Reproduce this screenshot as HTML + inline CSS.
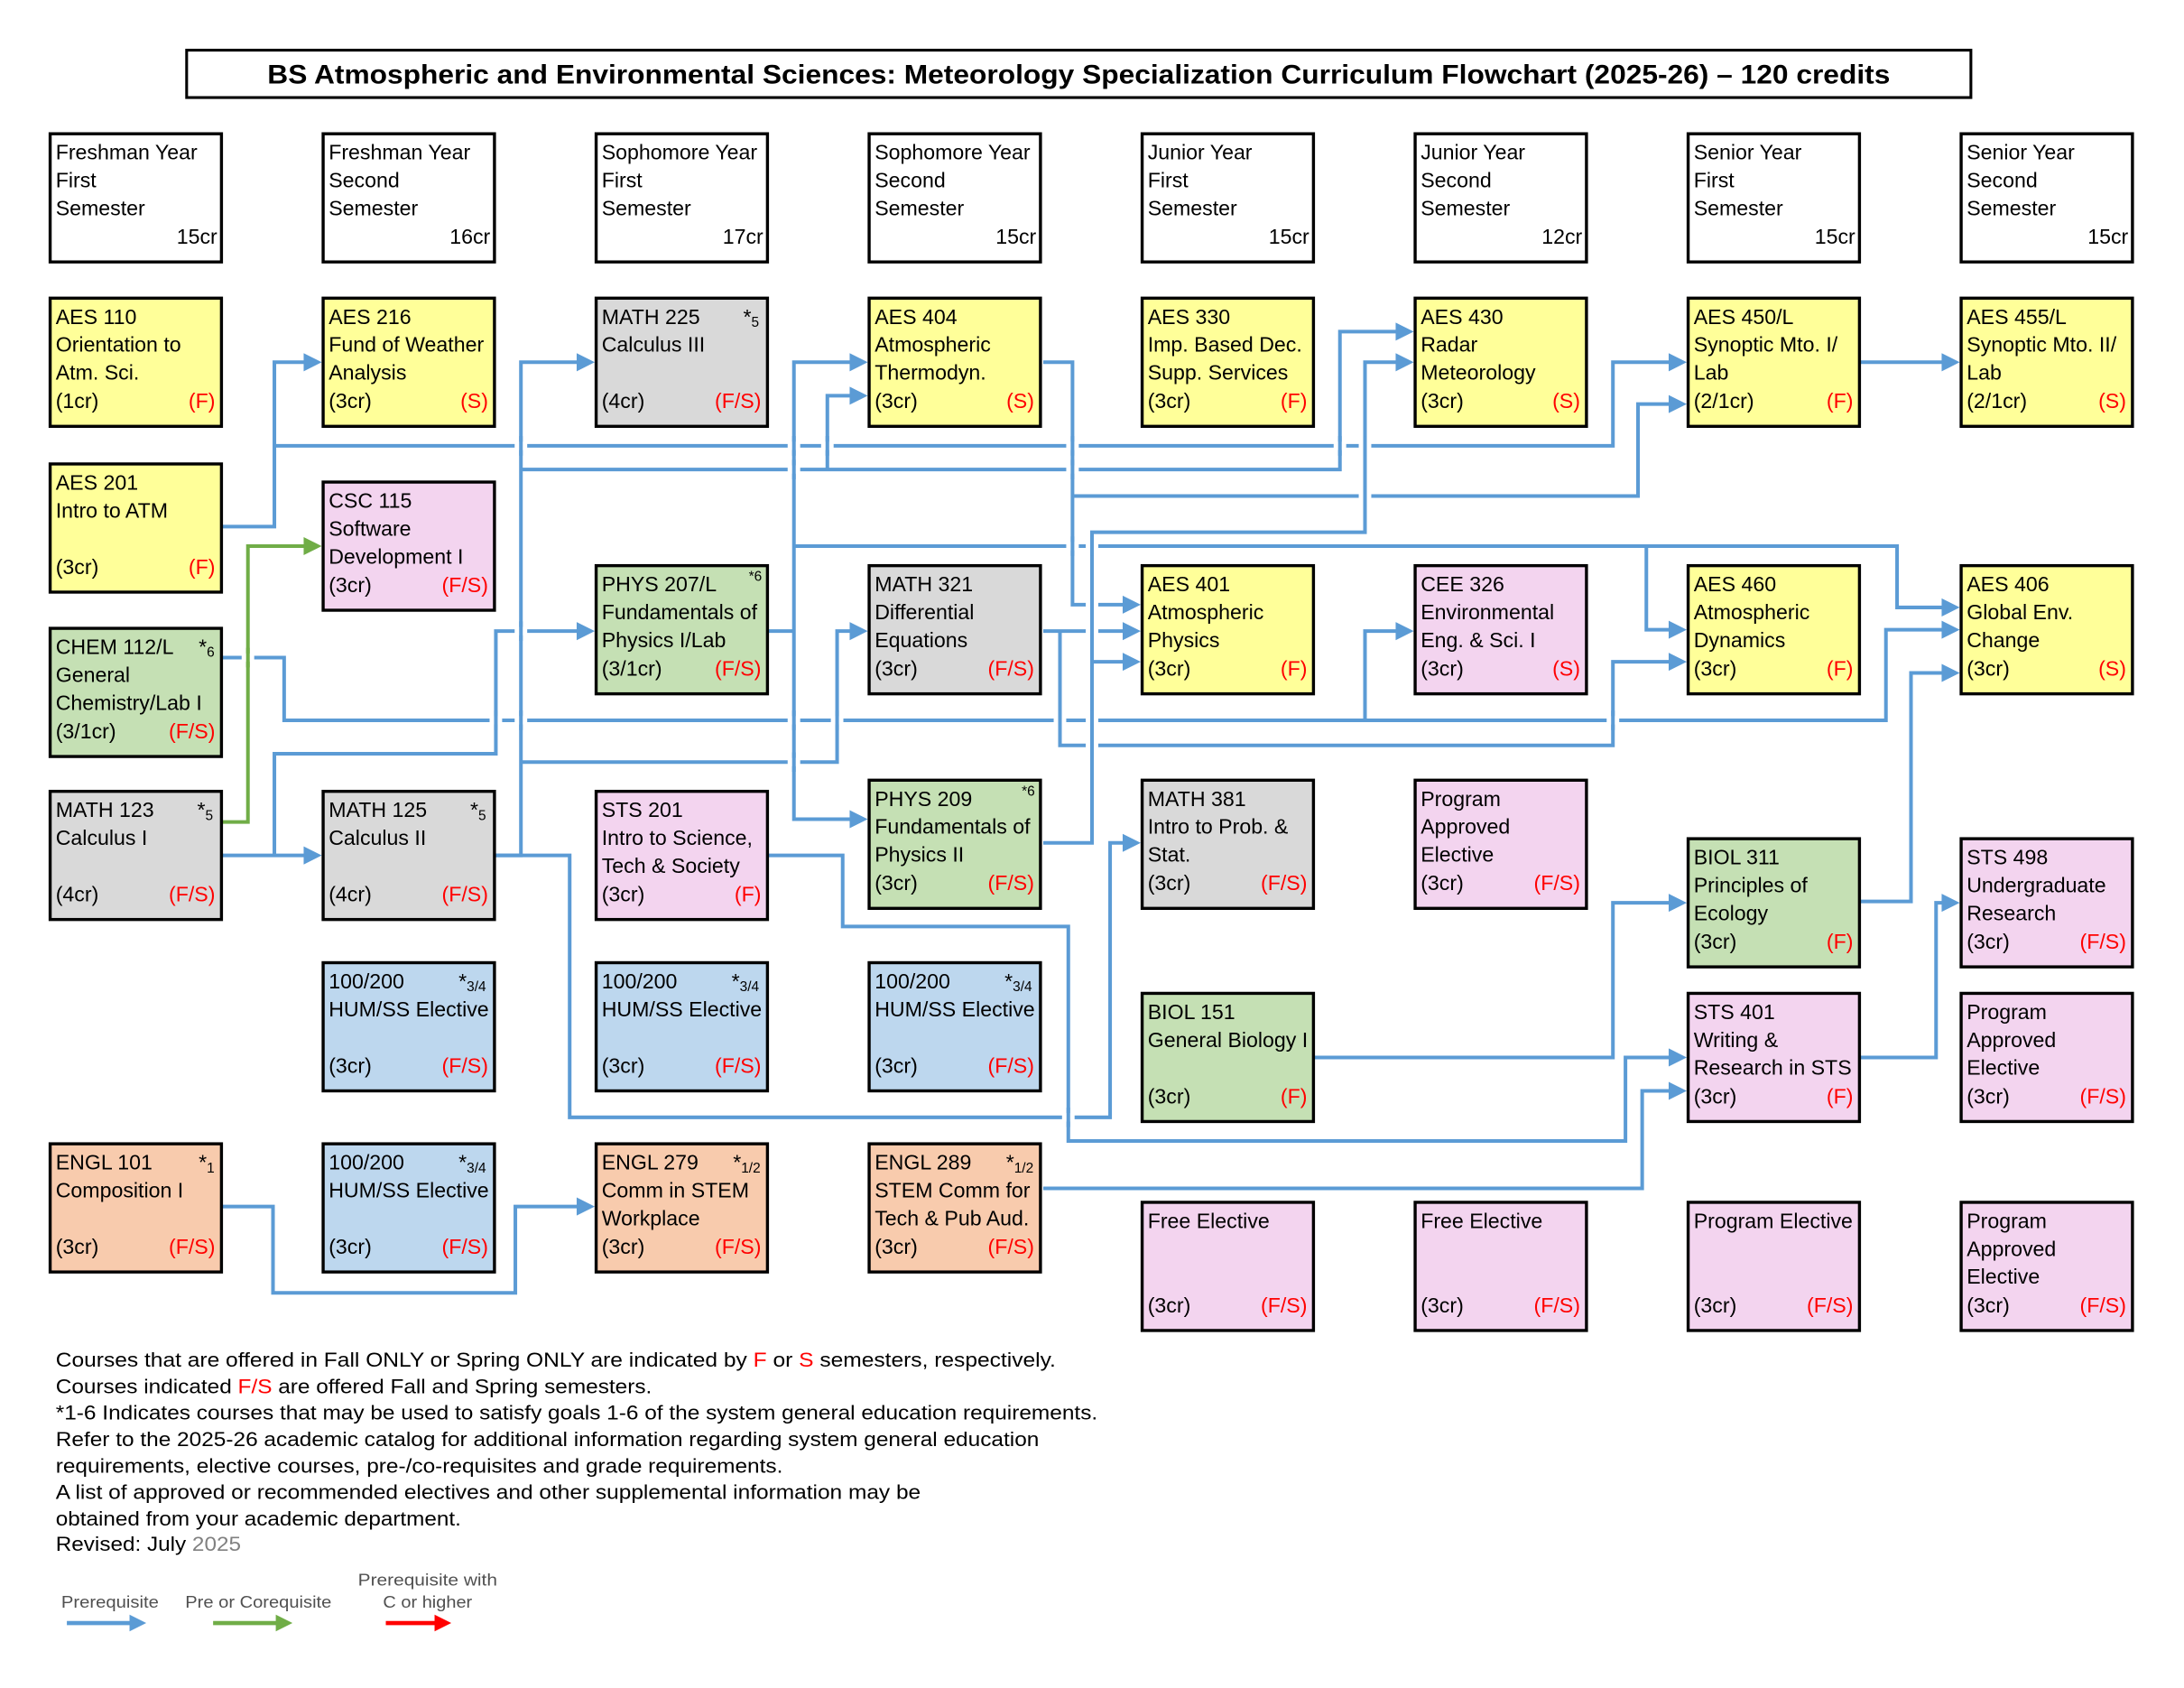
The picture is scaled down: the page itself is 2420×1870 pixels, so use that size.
<!DOCTYPE html>
<html><head><meta charset="utf-8"><style>
html,body{margin:0;padding:0;background:#fff;}
svg{display:block;}
text{font-family:"Liberation Sans",Arial,sans-serif;font-size:15px;fill:#000;}
.bx rect{stroke:#000;stroke-width:2.2;}
.r{fill:#f00;text-anchor:end;}
.e{text-anchor:end;}
.ln{fill:none;stroke:#5B9BD5;stroke-width:2.6;stroke-linejoin:miter;}
.gl{fill:none;stroke:#70AD47;stroke-width:2.6;}
.ah{fill:#5B9BD5;}
.lg{font-size:12px;fill:#505050;}
</style></head><body>
<svg width="2420" height="1870" viewBox="0 0 1568 1211.6" xmlns="http://www.w3.org/2000/svg">
<rect x="0" y="0" width="1568" height="1212" fill="#fff"/>
<!-- Title -->
<rect x="134" y="36" width="1281" height="34" fill="#fff" stroke="#000" stroke-width="2"/>
<text x="192" y="60" font-weight="bold" style="font-size:19px" textLength="1165" lengthAdjust="spacingAndGlyphs">BS Atmospheric and Environmental Sciences: Meteorology Specialization Curriculum Flowchart (2025-26) – 120 credits</text>

<!-- Semester headers -->
<g class="bx">
<g transform="translate(35,95)"><rect x="1" y="1" width="123" height="92" fill="#fff"/><text x="5" y="19.5">Freshman Year</text><text x="5" y="39.5">First</text><text x="5" y="59.5">Semester</text><text x="121" y="80" class="e">15cr</text></g>
<g transform="translate(231,95)"><rect x="1" y="1" width="123" height="92" fill="#fff"/><text x="5" y="19.5">Freshman Year</text><text x="5" y="39.5">Second</text><text x="5" y="59.5">Semester</text><text x="121" y="80" class="e">16cr</text></g>
<g transform="translate(427,95)"><rect x="1" y="1" width="123" height="92" fill="#fff"/><text x="5" y="19.5">Sophomore Year</text><text x="5" y="39.5">First</text><text x="5" y="59.5">Semester</text><text x="121" y="80" class="e">17cr</text></g>
<g transform="translate(623,95)"><rect x="1" y="1" width="123" height="92" fill="#fff"/><text x="5" y="19.5">Sophomore Year</text><text x="5" y="39.5">Second</text><text x="5" y="59.5">Semester</text><text x="121" y="80" class="e">15cr</text></g>
<g transform="translate(819,95)"><rect x="1" y="1" width="123" height="92" fill="#fff"/><text x="5" y="19.5">Junior Year</text><text x="5" y="39.5">First</text><text x="5" y="59.5">Semester</text><text x="121" y="80" class="e">15cr</text></g>
<g transform="translate(1015,95)"><rect x="1" y="1" width="123" height="92" fill="#fff"/><text x="5" y="19.5">Junior Year</text><text x="5" y="39.5">Second</text><text x="5" y="59.5">Semester</text><text x="121" y="80" class="e">12cr</text></g>
<g transform="translate(1211,95)"><rect x="1" y="1" width="123" height="92" fill="#fff"/><text x="5" y="19.5">Senior Year</text><text x="5" y="39.5">First</text><text x="5" y="59.5">Semester</text><text x="121" y="80" class="e">15cr</text></g>
<g transform="translate(1407,95)"><rect x="1" y="1" width="123" height="92" fill="#fff"/><text x="5" y="19.5">Senior Year</text><text x="5" y="39.5">Second</text><text x="5" y="59.5">Semester</text><text x="121" y="80" class="e">15cr</text></g>
</g>

<!-- Connectors (blue) -->
<g class="ln">
<path d="M160,378 H197 V260 H220"/>
<path d="M197,320 H1158 V260 H1200"/>
<path d="M356,614 H374 V260 H416"/>
<path d="M374,337 H962 V238 H1004"/>
<path d="M594,337 V284 H612"/>
<path d="M374,547 H601 V453 H612"/>
<path d="M356,614 H409 V802 H797 V605 H808"/>
<path d="M160,614 H220"/>
<path d="M197,614 V541 H356 V453 H416"/>
<path d="M160,472 H204 V517 H980 V453 H1004"/>
<path d="M980,517 H1354 V452 H1396"/>
<path d="M552,453 H570"/>
<path d="M612,260 H570 V588 H612"/>
<path d="M570,392 H1362 V436 H1396"/>
<path d="M1182,392 V452 H1200"/>
<path d="M749,260 H770 V434 H808"/>
<path d="M770,356 H1176 V290 H1200"/>
<path d="M749,453 H808"/>
<path d="M761,453 V535 H1158 V475 H1200"/>
<path d="M749,605 H784 V382 H980 V260 H1004"/>
<path d="M784,475 H808"/>
<path d="M552,614 H605 V665 H767 V819 H1167 V759 H1200"/>
<path d="M160,866 H196 V928 H370 V866 H416"/>
<path d="M749,853 H1179 V783 H1200"/>
<path d="M944,759 H1158 V648 H1200"/>
<path d="M1336,647 H1372 V483 H1396"/>
<path d="M1336,759 H1390 V648 H1396"/>
<path d="M1336,260 H1396"/>
</g>
<!-- Green connector -->
<path class="gl" d="M160,590 H178 V392 H220"/>

<!-- crossing gaps -->
<g fill="#fff">
<rect x="369.5" y="317" width="9" height="6"/><rect x="565.5" y="317" width="9" height="6"/><rect x="589.5" y="317" width="9" height="6"/><rect x="765.5" y="317" width="9" height="6"/><rect x="957.5" y="317" width="9" height="6"/><rect x="975.5" y="317" width="9" height="6"/>
<rect x="565.5" y="334" width="9" height="6"/><rect x="765.5" y="334" width="9" height="6"/>
<rect x="975.5" y="353" width="9" height="6"/>
<rect x="765.5" y="389" width="9" height="6"/><rect x="779.5" y="389" width="9" height="6"/>
<rect x="779.5" y="431" width="9" height="6"/>
<rect x="369.5" y="450" width="9" height="6"/><rect x="779.5" y="450" width="9" height="6"/>
<rect x="173.5" y="469" width="9" height="6"/>
<rect x="351.5" y="514" width="9" height="6"/><rect x="369.5" y="514" width="9" height="6"/><rect x="565.5" y="514" width="9" height="6"/><rect x="596.5" y="514" width="9" height="6"/><rect x="756.5" y="514" width="9" height="6"/><rect x="779.5" y="514" width="9" height="6"/><rect x="1153.5" y="514" width="9" height="6"/>
<rect x="779.5" y="532" width="9" height="6"/>
<rect x="565.5" y="544" width="9" height="6"/>
<rect x="762.5" y="799" width="9" height="6"/>
</g>
<g class="ln">
<path d="M374,313 V327 M570,313 V327 M594,313 V327 M770,313 V327 M962,313 V327 M980,313 V327"/>
<path d="M570,330 V344 M770,330 V344 M980,349 V363 M770,385 V399 M784,385 V399 M784,427 V441"/>
<path d="M374,446 V460 M784,446 V460"/>
<path d="M356,510 V524 M374,510 V524 M570,510 V524 M601,510 V524 M761,510 V524 M784,510 V524 M1158,510 V524"/>
<path d="M784,528 V542 M570,540 V554 M767,795 V809"/>
</g>
<path class="gl" d="M178,465 V479"/>

<!-- Arrowheads -->
<g class="ah">
<polygon points="231,260 218,253.5 218,266.5"/>
<polygon points="1211,260 1198,253.5 1198,266.5"/>
<polygon points="427,260 414,253.5 414,266.5"/>
<polygon points="1015,238 1002,231.5 1002,244.5"/>
<polygon points="623,284 610,277.5 610,290.5"/>
<polygon points="623,453 610,446.5 610,459.5"/>
<polygon points="819,605 806,598.5 806,611.5"/>
<polygon points="231,614 218,607.5 218,620.5"/>
<polygon points="427,453 414,446.5 414,459.5"/>
<polygon points="1015,453 1002,446.5 1002,459.5"/>
<polygon points="1407,452 1394,445.5 1394,458.5"/>
<polygon points="623,588 610,581.5 610,594.5"/>
<polygon points="623,260 610,253.5 610,266.5"/>
<polygon points="1407,436 1394,429.5 1394,442.5"/>
<polygon points="1211,452 1198,445.5 1198,458.5"/>
<polygon points="819,434 806,427.5 806,440.5"/>
<polygon points="1211,290 1198,283.5 1198,296.5"/>
<polygon points="819,453 806,446.5 806,459.5"/>
<polygon points="1211,475 1198,468.5 1198,481.5"/>
<polygon points="1015,260 1002,253.5 1002,266.5"/>
<polygon points="819,475 806,468.5 806,481.5"/>
<polygon points="1211,759 1198,752.5 1198,765.5"/>
<polygon points="427,866 414,859.5 414,872.5"/>
<polygon points="1211,783 1198,776.5 1198,789.5"/>
<polygon points="1211,648 1198,641.5 1198,654.5"/>
<polygon points="1407,483 1394,476.5 1394,489.5"/>
<polygon points="1407,648 1394,641.5 1394,654.5"/>
<polygon points="1407,260 1394,253.5 1394,266.5"/>
</g>
<polygon points="231,392 218,385.5 218,398.5" fill="#70AD47"/>

<!-- Course boxes -->
<g class="bx">
<g transform="translate(35,213)"><rect x="1" y="1" width="123" height="92" fill="#FFFF99"/><text x="5" y="19.5">AES 110</text><text x="5" y="39.5">Orientation to</text><text x="5" y="59.5">Atm. Sci.</text><text x="5" y="80">(1cr)</text><text x="119.5" y="80" class="r">(F)</text></g>
<g transform="translate(231,213)"><rect x="1" y="1" width="123" height="92" fill="#FFFF99"/><text x="5" y="19.5">AES 216</text><text x="5" y="39.5">Fund of Weather</text><text x="5" y="59.5">Analysis</text><text x="5" y="80">(3cr)</text><text x="119.5" y="80" class="r">(S)</text></g>
<g transform="translate(427,213)"><rect x="1" y="1" width="123" height="92" fill="#D9D9D9"/><text x="5" y="19.5">MATH 225</text><text x="118" y="19.5" class="e">*<tspan style="font-size:10px" dy="2">5</tspan></text><text x="5" y="39.5">Calculus III</text><text x="5" y="80">(4cr)</text><text x="119.5" y="80" class="r">(F/S)</text></g>
<g transform="translate(623,213)"><rect x="1" y="1" width="123" height="92" fill="#FFFF99"/><text x="5" y="19.5">AES 404</text><text x="5" y="39.5">Atmospheric</text><text x="5" y="59.5">Thermodyn.</text><text x="5" y="80">(3cr)</text><text x="119.5" y="80" class="r">(S)</text></g>
<g transform="translate(819,213)"><rect x="1" y="1" width="123" height="92" fill="#FFFF99"/><text x="5" y="19.5">AES 330</text><text x="5" y="39.5">Imp. Based Dec.</text><text x="5" y="59.5">Supp. Services</text><text x="5" y="80">(3cr)</text><text x="119.5" y="80" class="r">(F)</text></g>
<g transform="translate(1015,213)"><rect x="1" y="1" width="123" height="92" fill="#FFFF99"/><text x="5" y="19.5">AES 430</text><text x="5" y="39.5">Radar</text><text x="5" y="59.5">Meteorology</text><text x="5" y="80">(3cr)</text><text x="119.5" y="80" class="r">(S)</text></g>
<g transform="translate(1211,213)"><rect x="1" y="1" width="123" height="92" fill="#FFFF99"/><text x="5" y="19.5">AES 450/L</text><text x="5" y="39.5">Synoptic Mto. I/</text><text x="5" y="59.5">Lab</text><text x="5" y="80">(2/1cr)</text><text x="119.5" y="80" class="r">(F)</text></g>
<g transform="translate(1407,213)"><rect x="1" y="1" width="123" height="92" fill="#FFFF99"/><text x="5" y="19.5">AES 455/L</text><text x="5" y="39.5">Synoptic Mto. II/</text><text x="5" y="59.5">Lab</text><text x="5" y="80">(2/1cr)</text><text x="119.5" y="80" class="r">(S)</text></g>

<g transform="translate(35,332)"><rect x="1" y="1" width="123" height="92" fill="#FFFF99"/><text x="5" y="19.5">AES 201</text><text x="5" y="39.5">Intro to ATM</text><text x="5" y="80">(3cr)</text><text x="119.5" y="80" class="r">(F)</text></g>
<g transform="translate(231,345)"><rect x="1" y="1" width="123" height="92" fill="#F3D4EF"/><text x="5" y="19.5">CSC 115</text><text x="5" y="39.5">Software</text><text x="5" y="59.5">Development I</text><text x="5" y="80">(3cr)</text><text x="119.5" y="80" class="r">(F/S)</text></g>

<g transform="translate(427,405)"><rect x="1" y="1" width="123" height="92" fill="#C5E0B4"/><text x="5" y="19.5">PHYS 207/L</text><text x="120" y="12" class="e" style="font-size:10px">*6</text><text x="5" y="39.5">Fundamentals of</text><text x="5" y="59.5">Physics I/Lab</text><text x="5" y="80">(3/1cr)</text><text x="119.5" y="80" class="r">(F/S)</text></g>
<g transform="translate(623,405)"><rect x="1" y="1" width="123" height="92" fill="#D9D9D9"/><text x="5" y="19.5">MATH 321</text><text x="5" y="39.5">Differential</text><text x="5" y="59.5">Equations</text><text x="5" y="80">(3cr)</text><text x="119.5" y="80" class="r">(F/S)</text></g>
<g transform="translate(819,405)"><rect x="1" y="1" width="123" height="92" fill="#FFFF99"/><text x="5" y="19.5">AES 401</text><text x="5" y="39.5">Atmospheric</text><text x="5" y="59.5">Physics</text><text x="5" y="80">(3cr)</text><text x="119.5" y="80" class="r">(F)</text></g>
<g transform="translate(1015,405)"><rect x="1" y="1" width="123" height="92" fill="#F3D4EF"/><text x="5" y="19.5">CEE 326</text><text x="5" y="39.5">Environmental</text><text x="5" y="59.5">Eng. &amp; Sci. I</text><text x="5" y="80">(3cr)</text><text x="119.5" y="80" class="r">(S)</text></g>
<g transform="translate(1211,405)"><rect x="1" y="1" width="123" height="92" fill="#FFFF99"/><text x="5" y="19.5">AES 460</text><text x="5" y="39.5">Atmospheric</text><text x="5" y="59.5">Dynamics</text><text x="5" y="80">(3cr)</text><text x="119.5" y="80" class="r">(F)</text></g>
<g transform="translate(1407,405)"><rect x="1" y="1" width="123" height="92" fill="#FFFF99"/><text x="5" y="19.5">AES 406</text><text x="5" y="39.5">Global Env.</text><text x="5" y="59.5">Change</text><text x="5" y="80">(3cr)</text><text x="119.5" y="80" class="r">(S)</text></g>

<g transform="translate(35,450)"><rect x="1" y="1" width="123" height="92" fill="#C5E0B4"/><text x="5" y="19.5">CHEM 112/L</text><text x="119" y="19.5" class="e">*<tspan style="font-size:10px" dy="2">6</tspan></text><text x="5" y="39.5">General</text><text x="5" y="59.5">Chemistry/Lab I</text><text x="5" y="80">(3/1cr)</text><text x="119.5" y="80" class="r">(F/S)</text></g>

<g transform="translate(35,567)"><rect x="1" y="1" width="123" height="92" fill="#D9D9D9"/><text x="5" y="19.5">MATH 123</text><text x="118" y="19.5" class="e">*<tspan style="font-size:10px" dy="2">5</tspan></text><text x="5" y="39.5">Calculus I</text><text x="5" y="80">(4cr)</text><text x="119.5" y="80" class="r">(F/S)</text></g>
<g transform="translate(231,567)"><rect x="1" y="1" width="123" height="92" fill="#D9D9D9"/><text x="5" y="19.5">MATH 125</text><text x="118" y="19.5" class="e">*<tspan style="font-size:10px" dy="2">5</tspan></text><text x="5" y="39.5">Calculus II</text><text x="5" y="80">(4cr)</text><text x="119.5" y="80" class="r">(F/S)</text></g>
<g transform="translate(427,567)"><rect x="1" y="1" width="123" height="92" fill="#F3D4EF"/><text x="5" y="19.5">STS 201</text><text x="5" y="39.5">Intro to Science,</text><text x="5" y="59.5">Tech &amp; Society</text><text x="5" y="80">(3cr)</text><text x="119.5" y="80" class="r">(F)</text></g>
<g transform="translate(623,559)"><rect x="1" y="1" width="123" height="92" fill="#C5E0B4"/><text x="5" y="19.5">PHYS 209</text><text x="120" y="12" class="e" style="font-size:10px">*6</text><text x="5" y="39.5">Fundamentals of</text><text x="5" y="59.5">Physics II</text><text x="5" y="80">(3cr)</text><text x="119.5" y="80" class="r">(F/S)</text></g>
<g transform="translate(819,559)"><rect x="1" y="1" width="123" height="92" fill="#D9D9D9"/><text x="5" y="19.5">MATH 381</text><text x="5" y="39.5">Intro to Prob. &amp;</text><text x="5" y="59.5">Stat.</text><text x="5" y="80">(3cr)</text><text x="119.5" y="80" class="r">(F/S)</text></g>
<g transform="translate(1015,559)"><rect x="1" y="1" width="123" height="92" fill="#F3D4EF"/><text x="5" y="19.5">Program</text><text x="5" y="39.5">Approved</text><text x="5" y="59.5">Elective</text><text x="5" y="80">(3cr)</text><text x="119.5" y="80" class="r">(F/S)</text></g>
<g transform="translate(1211,601)"><rect x="1" y="1" width="123" height="92" fill="#C5E0B4"/><text x="5" y="19.5">BIOL 311</text><text x="5" y="39.5">Principles of</text><text x="5" y="59.5">Ecology</text><text x="5" y="80">(3cr)</text><text x="119.5" y="80" class="r">(F)</text></g>
<g transform="translate(1407,601)"><rect x="1" y="1" width="123" height="92" fill="#F3D4EF"/><text x="5" y="19.5">STS 498</text><text x="5" y="39.5">Undergraduate</text><text x="5" y="59.5">Research</text><text x="5" y="80">(3cr)</text><text x="119.5" y="80" class="r">(F/S)</text></g>

<g transform="translate(231,690)"><rect x="1" y="1" width="123" height="92" fill="#BDD7EE"/><text x="5" y="19.5">100/200</text><text x="118" y="19.5" class="e">*<tspan style="font-size:10px" dy="2">3/4</tspan></text><text x="5" y="39.5">HUM/SS Elective</text><text x="5" y="80">(3cr)</text><text x="119.5" y="80" class="r">(F/S)</text></g>
<g transform="translate(427,690)"><rect x="1" y="1" width="123" height="92" fill="#BDD7EE"/><text x="5" y="19.5">100/200</text><text x="118" y="19.5" class="e">*<tspan style="font-size:10px" dy="2">3/4</tspan></text><text x="5" y="39.5">HUM/SS Elective</text><text x="5" y="80">(3cr)</text><text x="119.5" y="80" class="r">(F/S)</text></g>
<g transform="translate(623,690)"><rect x="1" y="1" width="123" height="92" fill="#BDD7EE"/><text x="5" y="19.5">100/200</text><text x="118" y="19.5" class="e">*<tspan style="font-size:10px" dy="2">3/4</tspan></text><text x="5" y="39.5">HUM/SS Elective</text><text x="5" y="80">(3cr)</text><text x="119.5" y="80" class="r">(F/S)</text></g>
<g transform="translate(819,712)"><rect x="1" y="1" width="123" height="92" fill="#C5E0B4"/><text x="5" y="19.5">BIOL 151</text><text x="5" y="39.5">General Biology I</text><text x="5" y="80">(3cr)</text><text x="119.5" y="80" class="r">(F)</text></g>
<g transform="translate(1211,712)"><rect x="1" y="1" width="123" height="92" fill="#F3D4EF"/><text x="5" y="19.5">STS 401</text><text x="5" y="39.5">Writing &amp;</text><text x="5" y="59.5">Research in STS</text><text x="5" y="80">(3cr)</text><text x="119.5" y="80" class="r">(F)</text></g>
<g transform="translate(1407,712)"><rect x="1" y="1" width="123" height="92" fill="#F3D4EF"/><text x="5" y="19.5">Program</text><text x="5" y="39.5">Approved</text><text x="5" y="59.5">Elective</text><text x="5" y="80">(3cr)</text><text x="119.5" y="80" class="r">(F/S)</text></g>

<g transform="translate(35,820)"><rect x="1" y="1" width="123" height="92" fill="#F8CBAD"/><text x="5" y="19.5">ENGL 101</text><text x="119" y="19.5" class="e">*<tspan style="font-size:10px" dy="2">1</tspan></text><text x="5" y="39.5">Composition I</text><text x="5" y="80">(3cr)</text><text x="119.5" y="80" class="r">(F/S)</text></g>
<g transform="translate(231,820)"><rect x="1" y="1" width="123" height="92" fill="#BDD7EE"/><text x="5" y="19.5">100/200</text><text x="118" y="19.5" class="e">*<tspan style="font-size:10px" dy="2">3/4</tspan></text><text x="5" y="39.5">HUM/SS Elective</text><text x="5" y="80">(3cr)</text><text x="119.5" y="80" class="r">(F/S)</text></g>
<g transform="translate(427,820)"><rect x="1" y="1" width="123" height="92" fill="#F8CBAD"/><text x="5" y="19.5">ENGL 279</text><text x="119" y="19.5" class="e">*<tspan style="font-size:10px" dy="2">1/2</tspan></text><text x="5" y="39.5">Comm in STEM</text><text x="5" y="59.5">Workplace</text><text x="5" y="80">(3cr)</text><text x="119.5" y="80" class="r">(F/S)</text></g>
<g transform="translate(623,820)"><rect x="1" y="1" width="123" height="92" fill="#F8CBAD"/><text x="5" y="19.5">ENGL 289</text><text x="119" y="19.5" class="e">*<tspan style="font-size:10px" dy="2">1/2</tspan></text><text x="5" y="39.5">STEM Comm for</text><text x="5" y="59.5">Tech &amp; Pub Aud.</text><text x="5" y="80">(3cr)</text><text x="119.5" y="80" class="r">(F/S)</text></g>
<g transform="translate(819,862)"><rect x="1" y="1" width="123" height="92" fill="#F3D4EF"/><text x="5" y="19.5">Free Elective</text><text x="5" y="80">(3cr)</text><text x="119.5" y="80" class="r">(F/S)</text></g>
<g transform="translate(1015,862)"><rect x="1" y="1" width="123" height="92" fill="#F3D4EF"/><text x="5" y="19.5">Free Elective</text><text x="5" y="80">(3cr)</text><text x="119.5" y="80" class="r">(F/S)</text></g>
<g transform="translate(1211,862)"><rect x="1" y="1" width="123" height="92" fill="#F3D4EF"/><text x="5" y="19.5">Program Elective</text><text x="5" y="80">(3cr)</text><text x="119.5" y="80" class="r">(F/S)</text></g>
<g transform="translate(1407,862)"><rect x="1" y="1" width="123" height="92" fill="#F3D4EF"/><text x="5" y="19.5">Program</text><text x="5" y="39.5">Approved</text><text x="5" y="59.5">Elective</text><text x="5" y="80">(3cr)</text><text x="119.5" y="80" class="r">(F/S)</text></g>
</g>

<!-- Footnotes -->
<text x="40" y="981" style="font-size:14.5px" textLength="718" lengthAdjust="spacingAndGlyphs">Courses that are offered in Fall ONLY or Spring ONLY are indicated by <tspan fill="#f00">F</tspan> or <tspan fill="#f00">S</tspan> semesters, respectively.</text>
<text x="40" y="1000" style="font-size:14.5px" textLength="428" lengthAdjust="spacingAndGlyphs">Courses indicated <tspan fill="#f00">F/S</tspan> are offered Fall and Spring semesters.</text>
<text x="40" y="1019" style="font-size:14.5px" textLength="748" lengthAdjust="spacingAndGlyphs">*1-6 Indicates courses that may be used to satisfy goals 1-6 of the system general education requirements.</text>
<text x="40" y="1038" style="font-size:14.5px" textLength="706" lengthAdjust="spacingAndGlyphs">Refer to the 2025-26 academic catalog for additional information regarding system general education</text>
<text x="40" y="1057" style="font-size:14.5px" textLength="522" lengthAdjust="spacingAndGlyphs">requirements, elective courses, pre-/co-requisites and grade requirements.</text>
<text x="40" y="1076" style="font-size:14.5px" textLength="621" lengthAdjust="spacingAndGlyphs">A list of approved or recommended electives and other supplemental information may be</text>
<text x="40" y="1095" style="font-size:14.5px" textLength="291" lengthAdjust="spacingAndGlyphs">obtained from your academic department.</text>
<text x="40" y="1113" style="font-size:14.5px" textLength="133" lengthAdjust="spacingAndGlyphs">Revised: July <tspan fill="#808080">2025</tspan></text>

<!-- Legend -->
<text class="lg" x="44" y="1154" textLength="70" lengthAdjust="spacingAndGlyphs">Prerequisite</text>
<text class="lg" x="133" y="1154" textLength="105" lengthAdjust="spacingAndGlyphs">Pre or Corequisite</text>
<text class="lg" x="257" y="1138" textLength="100" lengthAdjust="spacingAndGlyphs">Prerequisite with</text>
<text class="lg" x="275" y="1154" textLength="64" lengthAdjust="spacingAndGlyphs">C or higher</text>
<line x1="48" y1="1165" x2="94" y2="1165" stroke="#5B9BD5" stroke-width="3"/>
<polygon points="105,1165 93,1159 93,1171" fill="#5B9BD5"/>
<line x1="153" y1="1165" x2="199" y2="1165" stroke="#70AD47" stroke-width="3"/>
<polygon points="210,1165 198,1159 198,1171" fill="#70AD47"/>
<line x1="277" y1="1165" x2="313" y2="1165" stroke="#FF0000" stroke-width="3"/>
<polygon points="324,1165 312,1159 312,1171" fill="#FF0000"/>
</svg>
</body></html>
